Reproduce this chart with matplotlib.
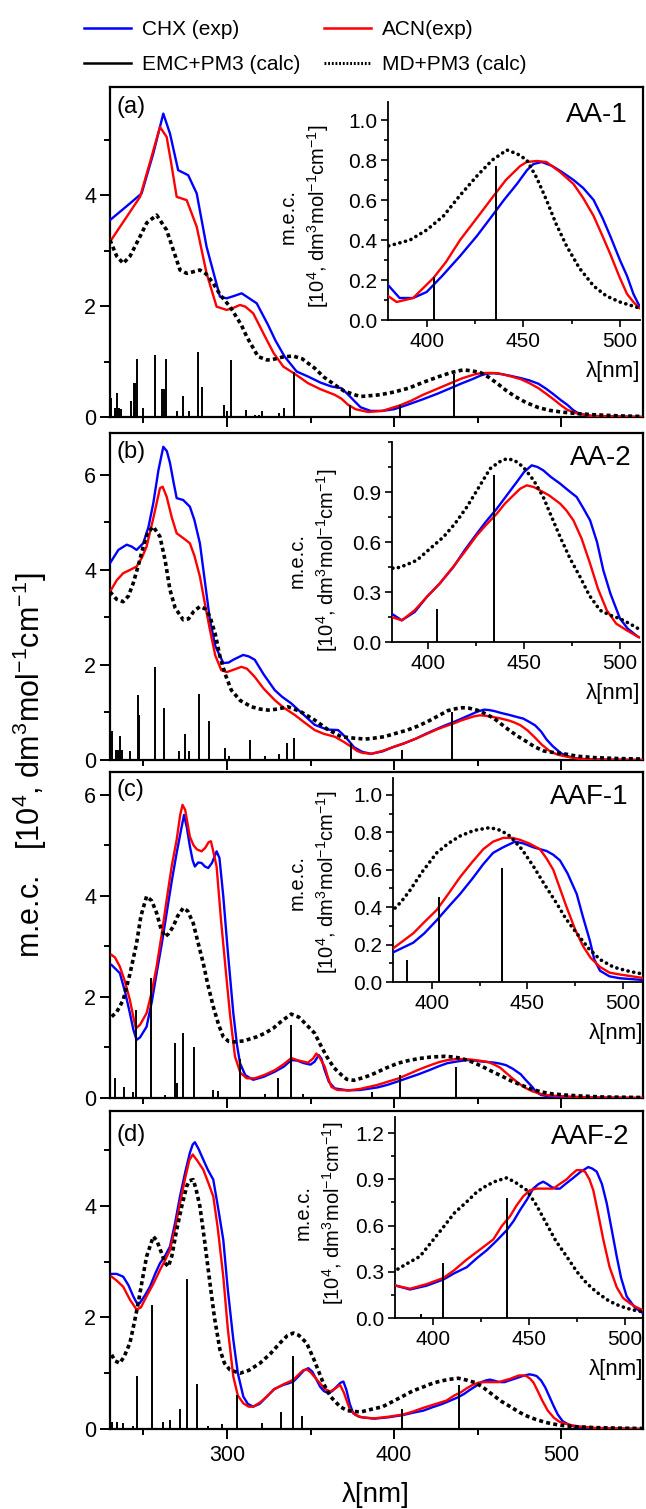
import matplotlib
matplotlib.use('Agg')
import matplotlib.pyplot as plt
from matplotlib.ticker import MultipleLocator, FormatStrFormatter
from matplotlib.lines import Line2D

plt.rcParams['font.family'] = ['Liberation Sans', 'DejaVu Sans']
plt.rcParams['mathtext.fontset'] = 'custom'
plt.rcParams['mathtext.rm'] = 'Liberation Sans'
plt.rcParams['mathtext.it'] = 'Liberation Sans:italic'
plt.rcParams['mathtext.bf'] = 'Liberation Sans:bold'

# ---------------- data ----------------
# panel (a) AA-1
a_chx_wl = [230, 241.9, 248.9, 255.9, 261.9, 265.9, 270.8, 276.8, 281.9, 287.8, 295.8, 299.8, 304, 308.8, 317.8, 324.6, 329,
            334.5, 341.7, 348.5, 356, 362.5, 368.4, 372, 376.5, 380, 386, 393, 400, 408, 417.3, 426, 434.6, 440, 446.7, 452,
            455.3, 459.6, 465, 470, 476, 481, 486.4, 491, 495, 500, 503.7, 507, 510.6, 518, 530, 549]
a_chx = [3.55, 3.85, 4.03, 4.75, 5.47, 5.11, 4.45, 4.36, 4.03, 3.07, 2.17, 2.14, 2.18, 2.23, 2.05, 1.66, 1.38,
         1.09, 0.82, 0.73, 0.62, 0.55, 0.52, 0.42, 0.28, 0.175, 0.11, 0.11, 0.14, 0.22, 0.32, 0.42, 0.53, 0.60, 0.68, 0.75,
         0.78, 0.79, 0.77, 0.74, 0.70, 0.66, 0.60, 0.51, 0.42, 0.30, 0.22, 0.13, 0.06, 0.02, 0.01, 0.0]
a_acn_wl = [230, 240, 248, 254, 259.9, 263.9, 266.5, 269.9, 275.9, 281.9, 287.8, 293.8, 299.8, 304, 307.8, 311, 315.7, 323.8,
            328, 333.7, 340.5, 348.5, 356, 364.5, 368.5, 372.5, 377, 380, 384.5, 393, 403.5, 410, 417.3, 426, 434.6, 441,
            448.4, 451.8, 457, 462, 469, 476, 481, 486.4, 491, 495, 500, 503.7, 507, 510, 518, 530, 549]
a_acn = [3.16, 3.61, 3.97, 4.6, 5.23, 5.05, 4.6, 3.97, 3.91, 3.43, 2.59, 1.99, 1.93, 1.97, 2.02, 1.99, 1.87, 1.39,
         1.15, 0.91, 0.78, 0.61, 0.50, 0.40, 0.33, 0.22, 0.14, 0.12, 0.09, 0.11, 0.21, 0.29, 0.40, 0.51, 0.62, 0.70,
         0.77, 0.79, 0.795, 0.79, 0.74, 0.68, 0.61, 0.52, 0.42, 0.33, 0.21, 0.13, 0.09, 0.06, 0.02, 0.01, 0.0]
a_md_wl = [230, 234, 237.9, 242, 247.9, 252, 257.9, 263.9, 268, 271.9, 275.9, 280, 283.8, 287.5, 291.8, 296, 301.8, 308.6,
           311.8, 318.6, 323.8, 326.5, 333, 339.5, 345, 352.5, 358, 364.5, 370, 376.5, 380, 384, 391.4, 400, 408.7, 417,
           426, 434, 441.5, 447, 451.8, 457, 462, 467, 472.4, 479, 486.4, 493, 500, 510, 520, 535, 549]
a_md = [3.19, 2.9, 2.77, 2.9, 3.25, 3.5, 3.64, 3.37, 3.0, 2.65, 2.59, 2.62, 2.65, 2.58, 2.41, 2.2, 1.99, 1.66,
        1.45, 1.09, 1.03, 1.03, 1.08, 1.1, 1.05, 0.88, 0.72, 0.58, 0.47, 0.40, 0.37, 0.38, 0.40, 0.45, 0.52, 0.62,
        0.72, 0.80, 0.85, 0.83, 0.80, 0.71, 0.60, 0.48, 0.37, 0.26, 0.17, 0.12, 0.09, 0.06, 0.04, 0.02, 0.01]
a_emc_wl = [230.7, 233.1, 234.1, 235.1, 236.4, 242.3, 244.3, 245.1, 246.1, 249.7, 256.7, 261.3, 262.1, 263.3, 270.1, 273.7,
            277.2, 282.6, 285.2, 298, 300, 302.6, 311.6, 316.6, 319.2, 321.1, 325.9, 331, 334.1, 339.9, 373.8, 403.8, 435.8]
a_emc = [0.34, 0.17, 0.44, 0.16, 0.14, 0.29, 0.61, 0.61, 1.04, 0.16, 1.12, 0.5, 0.5, 1.05, 0.1, 0.37,
         0.11, 1.17, 0.54, 0.22, 0.1, 1.02, 0.13, 0.04, 0.04, 0.1, 0.02, 0.07, 0.16, 0.82, 0.22, 0.215, 0.77]

# panel (b) AA-2
b_chx_wl = [230, 235, 240, 243, 245.9, 249.9, 253, 255.9, 259, 261.9, 264, 265.9, 268, 269.9, 273.8, 277.8, 280.5, 283.8,
            287, 289.8, 293, 297.8, 301, 303.8, 309.7, 313, 316.6, 322, 328.6, 333, 338.5, 345, 352.5, 360, 366.5, 369,
            372.5, 376, 381, 386.3, 393, 399.3, 406, 413.2, 419, 425.4, 430, 435.8, 441, 446.2, 450, 454, 457, 460, 464,
            468.8, 473, 477.4, 481, 484.4, 488, 491.3, 495, 500, 504, 509.5, 518, 549]
b_chx = [4.14, 4.42, 4.53, 4.49, 4.42, 4.56, 4.9, 5.40, 6.1, 6.59, 6.5, 6.25, 5.85, 5.51, 5.47, 5.33, 5.05, 4.56,
         3.7, 2.95, 2.4, 2.04, 2.05, 2.11, 2.21, 2.18, 2.11, 1.8, 1.47, 1.33, 1.19, 0.98, 0.74, 0.64, 0.63, 0.55,
         0.42, 0.27, 0.17, 0.13, 0.18, 0.27, 0.35, 0.45, 0.55, 0.65, 0.72, 0.80, 0.88, 0.96, 1.02, 1.06, 1.05, 1.03, 0.99,
         0.95, 0.91, 0.87, 0.80, 0.73, 0.60, 0.43, 0.29, 0.14, 0.08, 0.03, 0.01, 0.0]
b_acn_wl = [230, 234, 237.9, 242, 245.9, 249, 251.9, 256, 259.9, 261.5, 263.9, 267, 269.9, 273.8, 277.8, 280.5, 283.8, 287,
            289.8, 293, 296.6, 300, 304, 308.6, 312, 316.6, 322, 328.6, 334, 340.5, 346, 352.5, 358, 364.5, 369, 374.4,
            378, 381, 386.3, 393, 399.3, 406, 413, 419, 425.4, 430, 435.8, 440, 444.4, 448, 451.4, 455, 458.3, 463,
            468.8, 472, 475.7, 480, 484.4, 488.5, 493.1, 498, 503.5, 509.5, 518, 549]
b_acn = [3.54, 3.78, 3.93, 4.0, 4.07, 4.25, 4.49, 5.1, 5.72, 5.75, 5.54, 5.1, 4.77, 4.67, 4.56, 4.3, 3.86, 3.25,
         2.74, 2.2, 1.89, 1.85, 1.9, 1.96, 1.92, 1.75, 1.5, 1.26, 1.1, 0.95, 0.8, 0.63, 0.55, 0.49, 0.40, 0.28,
         0.19, 0.15, 0.13, 0.19, 0.27, 0.35, 0.45, 0.54, 0.64, 0.70, 0.77, 0.83, 0.88, 0.92, 0.94, 0.93, 0.91, 0.88,
         0.83, 0.79, 0.73, 0.62, 0.47, 0.32, 0.19, 0.11, 0.07, 0.03, 0.01, 0.0]
b_md_wl = [230, 234, 237.9, 241, 243.9, 247, 249.9, 252.5, 255.9, 259.9, 263, 265.9, 269, 273.8, 277, 280, 283.8, 287,
           289.8, 293, 295.8, 299, 302.6, 308, 314.6, 320, 324.6, 330, 336.5, 344, 352.5, 360, 368.4, 376, 382.8, 388,
           394.1, 401, 408, 414, 420.2, 426, 432.3, 437, 441, 445, 449.6, 455, 460, 464, 468.8, 474, 479.2, 484, 489.6,
           495, 500, 505, 509.5, 520, 535, 549]
b_md = [3.54, 3.38, 3.33, 3.45, 3.72, 4.1, 4.49, 4.78, 4.91, 4.70, 4.2, 3.58, 3.2, 2.95, 2.97, 3.12, 3.23, 3.18,
        3.02, 2.65, 2.18, 1.8, 1.47, 1.25, 1.12, 1.07, 1.05, 1.07, 1.12, 1.02, 0.84, 0.65, 0.49, 0.46, 0.44, 0.46,
        0.49, 0.56, 0.63, 0.71, 0.81, 0.92, 1.04, 1.08, 1.10, 1.09, 1.05, 0.97, 0.87, 0.76, 0.63, 0.50, 0.39, 0.28, 0.19,
        0.16, 0.14, 0.11, 0.08, 0.05, 0.03, 0.02]
b_emc_wl = [231.1, 233.5, 234.7, 235.7, 237.3, 242.1, 246.7, 247.5, 256.7, 262.1, 271.3, 274.7, 277.4, 283.2, 289.2, 298.6,
            301.2, 313.6, 322.9, 330.9, 335.9, 339.9, 374.4, 404.5, 434.5]
b_emc = [0.6, 0.21, 0.21, 0.51, 0.22, 0.18, 1.37, 0.95, 1.96, 1.09, 0.18, 0.55, 0.18, 1.39, 0.83, 0.25,
         0.08, 0.42, 0.09, 0.13, 0.35, 0.46, 0.35, 0.2, 1.0]

# panel (c) AAF-1
c_chx_wl = [231, 235.9, 239, 241.9, 244, 245.9, 248, 251.9, 255, 257.9, 261, 263.9, 267, 269.9, 272.5, 274.3, 276, 277.8,
            279.5, 280.8, 282.8, 284.8, 286.8, 288.8, 291, 293.8, 295.5, 297.8, 300.5, 303.8, 306, 307.8, 311, 315.7, 322,
            328.6, 334, 338.5, 342, 346, 350, 352.5, 354.9, 356.5, 358.5, 361, 364.5, 372.5, 380, 390.2, 396, 402.5,
            408.5, 414.7, 421, 426.9, 432, 437.3, 443.5, 448, 453, 456.5, 460, 463.5, 467, 471, 475.8, 479, 482.7, 485,
            488, 493, 498.4, 511.5, 549]
c_chx = [2.63, 2.47, 2.1, 1.68, 1.35, 1.15, 1.2, 1.41, 1.9, 2.47, 3.05, 3.66, 4.3, 4.85, 5.3, 5.60, 5.35, 4.98,
         4.7, 4.58, 4.66, 4.65, 4.58, 4.55, 4.65, 4.88, 4.75, 3.99, 2.9, 1.68, 1.05, 0.69, 0.45, 0.36, 0.42,
         0.52, 0.62, 0.75, 0.74, 0.69, 0.66, 0.72, 0.85, 0.78, 0.55, 0.32, 0.19, 0.15, 0.16, 0.21, 0.26, 0.33,
         0.40, 0.47, 0.55, 0.63, 0.69, 0.72, 0.75, 0.74, 0.72, 0.71, 0.70, 0.68, 0.65, 0.58, 0.47, 0.35, 0.22, 0.12,
         0.06, 0.03, 0.02, 0.01, 0.0]
c_acn_wl = [231, 233, 235.9, 239, 241.9, 244, 245.5, 248, 251.9, 255, 257.9, 261, 263.9, 267, 269.9, 272, 273.4, 275,
            277.8, 280, 282, 284.8, 287, 289, 290.4, 292, 293.8, 296.5, 299.8, 302, 304.8, 308, 311.8, 316.6, 322, 328.6,
            334, 338.5, 343, 348.5, 351.5, 353.5, 355.5, 358.5, 360.5, 362.5, 366, 372.5, 379.7, 390.2, 396, 402.5,
            408.5, 414.7, 421, 426.9, 432, 437.3, 442, 446, 451, 456.5, 460, 463.5, 467, 470.5, 475, 479.2, 483, 488,
            493, 498.4, 511.5, 520, 549]
c_acn = [2.83, 2.78, 2.60, 2.3, 1.94, 1.6, 1.38, 1.45, 1.68, 2.1, 2.60, 3.25, 3.92, 4.6, 5.11, 5.6, 5.80, 5.7,
         5.17, 5.0, 4.92, 4.88, 4.95, 5.06, 5.08, 4.85, 4.58, 3.5, 2.34, 1.6, 0.82, 0.5, 0.39, 0.39, 0.45, 0.55,
         0.67, 0.79, 0.74, 0.70, 0.78, 0.88, 0.80, 0.62, 0.40, 0.22, 0.16, 0.15, 0.18, 0.26, 0.32, 0.385,
         0.47, 0.56, 0.64, 0.71, 0.75, 0.77, 0.77, 0.76, 0.74, 0.71, 0.66, 0.60, 0.50, 0.40, 0.28, 0.19, 0.13, 0.08,
         0.05, 0.04, 0.02, 0.01, 0.0]
c_md_wl = [231, 234, 237.9, 241.9, 245.9, 248.5, 251.9, 255, 257.9, 260.5, 262.9, 265, 267.8, 270.5, 273.8, 276.5, 279.8,
           282.5, 285.8, 288.5, 291.8, 295, 297.8, 301, 304.6, 310, 317.8, 322.6, 327.7, 333, 338.5, 343, 347, 352.5,
           356, 359.7, 364, 368.4, 371.7, 376, 379.7, 384, 388.5, 395, 402.5, 408.5, 414.7, 422, 430.4, 436, 440.8,
           447, 453, 459, 465.3, 470, 475.8, 482, 488, 495, 502, 511.5, 525, 549]
c_md = [1.61, 1.7, 1.94, 2.45, 3.06, 3.6, 3.99, 3.9, 3.66, 3.35, 3.19, 3.25, 3.39, 3.6, 3.76, 3.7, 3.46,
        3.1, 2.67, 2.25, 1.81, 1.45, 1.21, 1.12, 1.11, 1.13, 1.21, 1.28, 1.38, 1.53, 1.66, 1.6, 1.47, 1.28,
        1.05, 0.82, 0.6, 0.46, 0.37, 0.35, 0.385, 0.43, 0.49, 0.59, 0.69, 0.74, 0.78, 0.81, 0.825, 0.81, 0.78,
        0.71, 0.62, 0.52, 0.42, 0.34, 0.26, 0.18, 0.12, 0.08, 0.06, 0.04, 0.02, 0.01]
c_emc_wl = [232.7, 238.4, 243.8, 245.6, 254.4, 262.7, 268.8, 270, 273.9, 280.2, 291.9, 294.9, 307.7, 322.9, 330.6, 338.6,
            345.5, 387, 403.5, 436.8]
c_emc = [0.39, 0.22, 0.12, 1.74, 2.38, 0.05, 1.08, 0.29, 1.28, 1.0, 0.16, 0.13, 0.78, 0.08, 0.39, 1.45,
         0.07, 0.12, 0.455, 0.61]

# panel (d) AAF-2
d_chx_wl = [231, 234, 237.9, 241, 243.9, 246, 247.9, 251, 253.9, 257, 259.9, 262.9, 265.9, 269, 271.9, 275, 277.8, 279.5,
            280.8, 283, 285.8, 288.5, 291.8, 294.5, 297.8, 300.5, 303.8, 306.5, 309.8, 312.5, 315.7, 319.5, 323.8, 328.5,
            333.7, 337, 339.7, 343, 346, 348.7, 351, 353, 355.7, 358, 360.7, 363, 365.7, 368, 369.7, 371.5, 373.5, 375.6,
            379, 380.7, 388, 396.7, 405.4, 411, 417.6, 423, 428, 433, 438.4, 442, 445.3, 449, 452.2, 455, 457.4, 459.5,
            461.8, 464, 466.1, 469, 473.1, 477, 480.9, 483, 485.3, 488, 490.5, 493, 495.7, 498, 500.9, 505, 509.5, 520,
            549]
d_chx = [2.78, 2.78, 2.73, 2.58, 2.38, 2.26, 2.26, 2.4, 2.55, 2.78, 2.97, 3.1, 3.27, 3.7, 4.17, 4.6, 4.95, 5.1,
         5.14, 5.02, 4.83, 4.65, 4.47, 4.0, 3.39, 2.5, 1.60, 1.0, 0.58, 0.45, 0.40, 0.45, 0.58, 0.72,
         0.79, 0.82, 0.85, 0.95, 1.05, 1.09, 1.03, 0.92, 0.76, 0.68, 0.64, 0.68, 0.76, 0.83, 0.85, 0.7, 0.45, 0.28,
         0.22, 0.21, 0.185, 0.21, 0.25, 0.29, 0.33, 0.39, 0.44, 0.50, 0.57, 0.63, 0.70, 0.77, 0.84, 0.87, 0.885, 0.87,
         0.85, 0.84, 0.84, 0.87, 0.91, 0.95, 0.98, 0.97, 0.95, 0.87, 0.745, 0.58, 0.40, 0.26, 0.14, 0.07, 0.03, 0.01,
         0.0]
d_acn_wl = [231, 234, 237.9, 241.9, 245.9, 248.5, 251.9, 255.9, 259.9, 262.9, 265.9, 269, 271.9, 275, 277.5, 279.5, 282,
            285.8, 289, 291.8, 294.5, 297.8, 300.5, 303.8, 306.5, 309.8, 313, 315.7, 320, 323.8, 327.7, 333.7, 339.7, 343,
            345.5, 347.7, 350, 352.5, 355.7, 358.5, 361.7, 364.5, 367.7, 370, 372, 373.7, 377, 380.7, 388, 396.7, 405.4,
            411, 417.6, 424, 431.4, 436, 440.1, 443.5, 447, 450.5, 454, 458, 462.7, 466, 469.6, 472, 474.8, 477, 479.2,
            481.5, 483.5, 486, 488.7, 492, 495.7, 499, 502.6, 506, 509.5, 520, 549]
d_acn = [2.73, 2.66, 2.55, 2.32, 2.14, 2.18, 2.38, 2.6, 2.85, 3.02, 3.21, 3.6, 4.05, 4.5, 4.82, 4.92, 4.82,
         4.65, 4.4, 4.17, 3.6, 2.73, 1.8, 0.94, 0.6, 0.46, 0.40, 0.40, 0.48, 0.58, 0.70, 0.80, 0.88, 0.98,
         1.05, 1.07, 1.02, 0.93, 0.82, 0.72, 0.67, 0.72, 0.79, 0.65, 0.48, 0.34, 0.25, 0.21, 0.19, 0.22, 0.26,
         0.31, 0.38, 0.44, 0.51, 0.60, 0.66, 0.73, 0.79, 0.83, 0.84, 0.84, 0.84, 0.87, 0.90, 0.93, 0.96, 0.96, 0.95,
         0.90, 0.83, 0.68, 0.51, 0.33, 0.20, 0.13, 0.095, 0.07, 0.05, 0.02, 0.0]
d_md_wl = [231, 233, 235.9, 238.5, 241.9, 244.5, 246.9, 249.5, 251.9, 255.9, 258, 260.9, 262.9, 264.9, 267, 269.9, 273,
           275.9, 277.5, 279.8, 281.5, 283.8, 286.5, 289.8, 292.5, 295.8, 298.5, 301.8, 307.8, 313, 319.8, 326, 331.7,
           336, 339.7, 343, 347.7, 352, 357.7, 362, 367.7, 372, 377.7, 380.7, 386, 393.2, 399, 405.4, 411, 417.6, 423,
           428, 433, 438.4, 443, 448.8, 454, 459.2, 464, 469.6, 475, 480.1, 485, 490.5, 495, 500.9, 505, 509.5, 520,
           535, 549]
d_md = [1.33, 1.22, 1.18, 1.3, 1.54, 1.9, 2.26, 2.7, 3.09, 3.45, 3.38, 3.15, 2.98, 2.91, 3.1, 3.57, 4.0,
        4.35, 4.45, 4.47, 4.3, 3.99, 3.4, 2.62, 2.0, 1.42, 1.18, 1.06, 1.00, 1.05, 1.18, 1.35, 1.54,
        1.67, 1.72, 1.68, 1.54, 1.25, 0.82, 0.58, 0.40, 0.33, 0.31, 0.31, 0.35, 0.40, 0.49, 0.59, 0.68, 0.755, 0.82,
        0.86, 0.89, 0.91, 0.88, 0.83, 0.73, 0.61, 0.50, 0.40, 0.30, 0.225, 0.17, 0.12, 0.09, 0.063, 0.05, 0.04, 0.025,
        0.015, 0.01]
d_emc_wl = [231.3, 234, 237.9, 243.5, 245.9, 254.9, 261.9, 265.9, 271.9, 276.2, 281.9, 288.8, 296.8, 305.8, 320.8, 332.1,
            339.3, 345.1, 393.8, 405, 438.6]
d_emc = [0.13, 0.13, 0.11, 0.05, 0.95, 2.23, 0.13, 0.17, 0.35, 2.68, 0.81, 0.05, 0.09, 0.61, 0.11, 0.30,
         1.30, 0.24, 0.025, 0.36, 0.78]

titles = ['AA-1', 'AA-2', 'AAF-1', 'AAF-2']
letters = ['(a)', '(b)', '(c)', '(d)']
legend_labels = ['CHX (exp)', 'ACN(exp)', 'EMC+PM3 (calc)', 'MD+PM3 (calc)']
main_xticks = [300, 400, 500]
main_yticks = [[0, 2, 4], [0, 2, 4, 6], [0, 2, 4, 6], [0, 2, 4]]
inset_yticks = [[0.0, 0.2, 0.4, 0.6, 0.8, 1.0], [0.0, 0.3, 0.6, 0.9], [0.0, 0.2, 0.4, 0.6, 0.8, 1.0],
                [0.0, 0.3, 0.6, 0.9, 1.2]]
inset_xticks = [400, 450, 500]

panels = [
    (a_chx_wl, a_chx, a_acn_wl, a_acn, a_md_wl, a_md, a_emc_wl, a_emc),
    (b_chx_wl, b_chx, b_acn_wl, b_acn, b_md_wl, b_md, b_emc_wl, b_emc),
    (c_chx_wl, c_chx, c_acn_wl, c_acn, c_md_wl, c_md, c_emc_wl, c_emc),
    (d_chx_wl, d_chx, d_acn_wl, d_acn, d_md_wl, d_md, d_emc_wl, d_emc),
]

# ---------------- layout (pixels) ----------------
W, H = 646, 1509
fig = plt.figure(figsize=(W / 100, H / 100), dpi=100)


def axes_px(l, t, r, b):
    return fig.add_axes([l / W, 1 - b / H, (r - l) / W, (b - t) / H])


main_rects = [(110, 87, 643, 417), (110, 433, 643, 760), (110, 772, 643, 1098), (110, 1111, 643, 1429)]
main_ylims = [5.95, 6.88, 6.45, 5.7]
inset_rects = [(388, 102, 640, 320), (392, 442, 640, 642), (393, 778, 643, 982), (395, 1117, 643, 1318)]
inset_xlims = [(380, 510.4), (381.2, 510.4), (379.6, 510.5), (380.2, 509.4)]
inset_ylims = [1.09, 1.2, 1.09, 1.305]
inset_ylabel_pos = [(305, 216), (314, 560), (314, 882), (320, 1213)]
letter_y = [107, 452, 790, 1135]
title_pos = [(628, 115), (632, 458), (629, 797), (629, 1137)]

BLUE = '#0000FF'
RED = '#FF0000'


def draw(ax, data, inset):
    wl_b, y_b, wl_r, y_r, wl_m, y_m, wl_e, y_e = data
    lw = 1.7
    ax.plot(wl_b, y_b, color=BLUE, lw=lw, zorder=3)
    ax.plot(wl_r, y_r, color=RED, lw=lw, zorder=4)
    ax.vlines(wl_e, 0, y_e, colors='black', lw=1.4, zorder=5)
    if inset:
        ax.plot(wl_m, y_m, color='black', lw=2.6, linestyle=(0, (0.05, 1.55)),
                dash_capstyle='round', zorder=6)
    else:
        ax.plot(wl_m, y_m, color='black', lw=2.6, linestyle=(0, (1.1, 0.9)), zorder=6)


for i in range(4):
    ax = axes_px(*main_rects[i])
    draw(ax, panels[i], False)
    ax.set_xlim(230, 549)
    ax.set_ylim(0, main_ylims[i])
    ax.xaxis.set_major_locator(MultipleLocator(100))
    ax.xaxis.set_minor_locator(MultipleLocator(50))
    ax.set_yticks(main_yticks[i])
    ax.yaxis.set_minor_locator(MultipleLocator(1))
    ax.tick_params(which='both', direction='out', top=False, right=False, width=1.4)
    ax.tick_params(which='major', length=7.5, labelsize=15.5, pad=2.5)
    ax.tick_params(which='minor', length=4.5)
    ax.tick_params(axis='x', which='major', pad=4)
    for s in ax.spines.values():
        s.set_linewidth(1.6)
    if i < 3:
        ax.tick_params(axis='x', labelbottom=False)
    else:
        ax.set_xticks(main_xticks)
        ax.set_xlabel('λ[nm]', fontsize=20, va='center')
        ax.xaxis.set_label_coords(376 / W, 1 - 1495 / H, transform=fig.transFigure)
    if i == 1:
        ax.set_ylabel('m.e.c.   [10$^4$, dm$^3$mol$^{-1}$cm$^{-1}$]', fontsize=22, va='center')
        ax.yaxis.set_label_coords(30 / W, 1 - 765 / H, transform=fig.transFigure)
    fig.text(116 / W, 1 - letter_y[i] / H, letters[i], fontsize=17, ha='left', va='center')

    # inset
    ins = axes_px(*inset_rects[i])
    ins.set_facecolor('none')
    draw(ins, panels[i], True)
    ins.set_xlim(*inset_xlims[i])
    ins.set_ylim(0, inset_ylims[i])
    ins.set_xticks(inset_xticks)
    ins.xaxis.set_minor_locator(MultipleLocator(25))
    ins.set_yticks(inset_yticks[i])
    step = inset_yticks[i][1] - inset_yticks[i][0]
    ins.yaxis.set_minor_locator(MultipleLocator(step / 2))
    ins.yaxis.set_major_formatter(FormatStrFormatter('%.1f'))
    ins.spines['top'].set_visible(False)
    ins.spines['right'].set_visible(False)
    for s in ('left', 'bottom'):
        ins.spines[s].set_linewidth(1.3)
    ins.tick_params(which='both', direction='out', width=1.2)
    ins.tick_params(which='major', length=5, labelsize=15, pad=2.5)
    ins.tick_params(which='minor', length=3)
    ins.tick_params(axis='x', which='major', pad=3.5)
    ins.set_ylabel('m.e.c.\n[10$^4$, dm$^3$mol$^{-1}$cm$^{-1}$]', fontsize=14.5, va='center',
                   ha='center', linespacing=1.35)
    xl, yl = inset_ylabel_pos[i]
    ins.yaxis.set_label_coords(xl / W, 1 - yl / H, transform=fig.transFigure)
    ins.set_xlabel('λ[nm]', fontsize=16, ha='right', va='center')
    ins.xaxis.set_label_coords(inset_rects[i][2] / W, 1 - (inset_rects[i][3] + 52) / H,
                               transform=fig.transFigure)
    fig.text(title_pos[i][0] / W, 1 - title_pos[i][1] / H, titles[i], fontsize=20, ha='right', va='center')

# legend
handles = [
    Line2D([], [], color=BLUE, lw=1.8),
    Line2D([], [], color='black', lw=1.8),
    Line2D([], [], color=RED, lw=1.8),
    Line2D([], [], color='black', lw=2.2, linestyle=(0, (0.6, 0.6))),
]
labels = [legend_labels[0], legend_labels[2], legend_labels[1], legend_labels[3]]
fig.legend(handles, labels, loc='upper left', bbox_to_anchor=(80 / W, 1 - 16 / H), ncol=2, frameon=False,
           fontsize=15, handlelength=2.25, handletextpad=0.55, columnspacing=1.1, labelspacing=0.76,
           borderpad=0.2, borderaxespad=0)

fig.savefig('out.png', dpi=100)
